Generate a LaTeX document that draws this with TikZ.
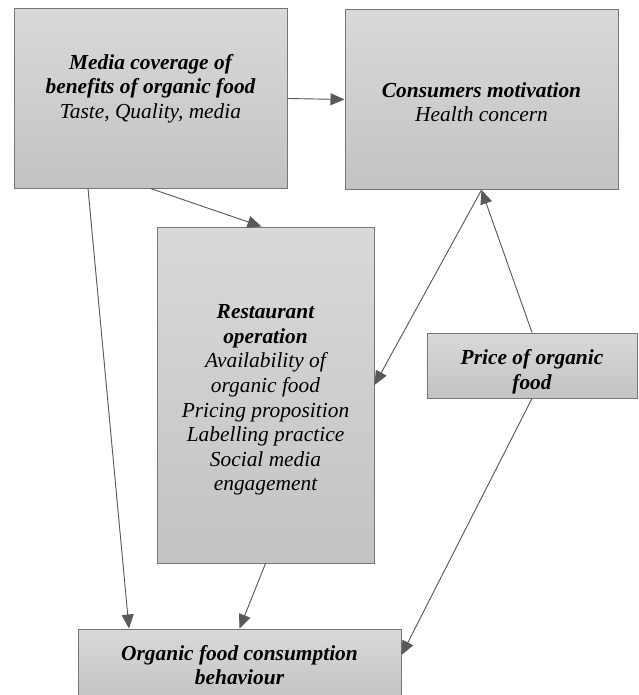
\documentclass[tikz,border=0pt]{standalone}
\usepackage{fontspec}
\setmainfont{Liberation Serif}
\usepackage{tikz}
\usetikzlibrary{positioning,arrows.meta}
\definecolor{boxline}{HTML}{767676}
\definecolor{arrowline}{HTML}{595959}

\begin{document}
\begin{tikzpicture}[
  x=1pt, y=-1pt,
  every node/.style={font=\fontsize{21.4}{24.6}\selectfont\itshape},
  factorbox/.style={
    draw=boxline, line width=1pt, top color=gray!30, bottom color=gray!47,
    inner sep=0pt, align=center,
  },
  link/.style={-{Triangle[length=14pt,width=12pt]}, line width=0.9pt,
    draw=arrowline, fill=arrowline},
]
  \useasboundingbox (0,0) rectangle (638,695);

  \node[factorbox, minimum width=273pt, minimum height=179pt] (media) at (150.5,98.5)
    {\textbf{Media coverage of}\\ \textbf{benefits of organic food}\\ Taste, Quality, media\\ ~};
  \node[factorbox, minimum width=273pt, minimum height=180pt] (motive) at (481.5,99.5)
    {\rule{0pt}{20pt}\textbf{Consumers motivation}\\ Health concern};
  \node[factorbox, minimum width=217pt, minimum height=336pt] (resto) at (265.5,395)
    {\rule{0pt}{24pt}\textbf{Restaurant}\\ \textbf{operation}\\ Availability of\\ organic food\\
     Pricing proposition\\ Labelling practice\\ Social media\\ engagement};
  \node[factorbox, minimum width=210pt, minimum height=65pt] (price) at (532,365.5)
    {\rule{0pt}{27pt}\textbf{Price of organic}\\ \textbf{food}};
  \node[factorbox, minimum width=323pt, minimum height=72pt] (behav) at (239.5,665)
    {\textbf{Organic food consumption}\\ \textbf{behaviour}};

  % media coverage drives motivation, operation and behaviour
  \draw[link] (media.east) -- (motive.west);
  \draw[link] (media.south) -- ([xshift=-4pt]resto.north);
  \draw[link] ([xshift=-62.5pt]media.south) -- ([xshift=-110.5pt]behav.north);

  % operation and price feed into behaviour
  \draw[link] (resto.south) -- (behav.north);
  \draw[link] (price.south) -- ([yshift=10pt]behav.east);

  % price and motivation
  \draw[link] (price.north) -- (motive.south);
  \draw[link] (motive.south) -- ([yshift=10pt]resto.east);
\end{tikzpicture}
\end{document}
